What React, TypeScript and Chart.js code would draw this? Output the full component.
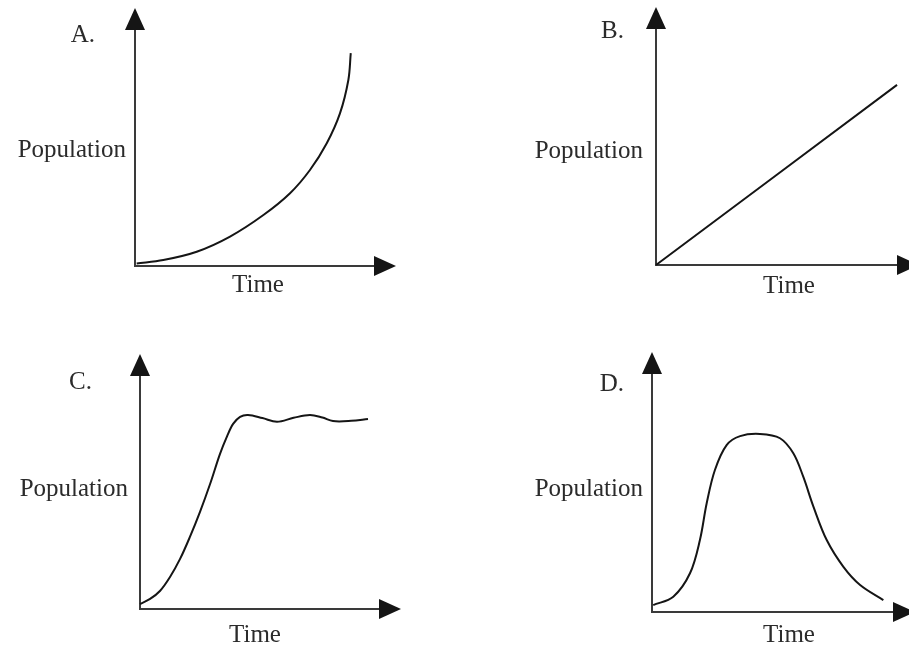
import React, { useEffect, useRef } from "react";
import { Chart, registerables } from "chart.js";

Chart.register(...registerables);

// ---------- data (time 0..100, population 0..100) ----------
const timeA = [0.7, 11.8, 25.7, 39.6, 53.5, 64.6, 72.9, 79.9, 85.4, 88.9, 89.9];
const popA = [1.1, 2.5, 6.0, 12.4, 21.5, 30.7, 40.5, 51.8, 64.4, 78.5, 89.8];

const timeB = [0, 99.6];
const popB = [0, 76];

const timeC = [0, 4.2, 8.3, 12.5, 16.7, 20.8, 25, 29.2, 33.3, 36.3, 38.8, 41.7, 45, 51, 57.1, 64, 70.8, 76, 80.4, 88, 95];
const popC = [2.1, 4.3, 7.7, 13.7, 21.4, 30.8, 41.5, 53.4, 66.2, 73.9, 79.1, 82.1, 82.9, 81.6, 80.0, 81.7, 82.9, 81.8, 80.3, 80.4, 81.2];

const timeD = [0.5, 8.8, 15.7, 19.8, 22.6, 26, 30.9, 36.4, 44.6, 52.9, 58.4, 62.5, 66.7, 72.2, 79.1, 86, 95.6];
const popD = [2.9, 6.4, 16.2, 30.1, 45.5, 59.4, 69.9, 73.6, 74.5, 72.7, 66.4, 56.6, 44.1, 30.1, 18.9, 11.3, 5.0];

const panelLetters = ["A.", "B.", "C.", "D."];
const yAxisLabel = "Population";
const xAxisLabel = "Time";

// ---------- layout (pixels, per panel canvas) ----------
const PANELS = [
  { time: timeA, pop: popA, left: 0, top: 0, w: 454, h: 324,
    pad: { left: 135, top: 29, right: 79, bottom: 58 },
    letter: { x: 95, y: 42 }, ylab: { x: 126, y: 157 }, xlab: { x: 258, y: 292 } },
  { time: timeB, pop: popB, left: 454, top: 0, w: 455, h: 324,
    pad: { left: 202, top: 28, right: 11, bottom: 59 },
    letter: { x: 170, y: 38 }, ylab: { x: 189, y: 158 }, xlab: { x: 335, y: 293 } },
  { time: timeC, pop: popC, left: 0, top: 324, w: 454, h: 325,
    pad: { left: 140, top: 51, right: 74, bottom: 40 },
    letter: { x: 92, y: 65 }, ylab: { x: 128, y: 172 }, xlab: { x: 255, y: 318 } },
  { time: timeD, pop: popD, left: 454, top: 324, w: 455, h: 325,
    pad: { left: 198, top: 49, right: 15, bottom: 37 },
    letter: { x: 170, y: 67 }, ylab: { x: 189, y: 172 }, xlab: { x: 335, y: 318 } },
];

const FONT = '25px "Liberation Serif", "Times New Roman", serif';
const TEXT_COLOR = "#2b2b2b";
const AXIS_COLOR = "#3a3a3a";

const decorPlugin = {
  id: "decor",
  afterDraw(chart: any, _args: any, opts: any) {
    const ctx = chart.ctx as CanvasRenderingContext2D;
    const xs = chart.scales.x;
    const ys = chart.scales.y;
    const x0 = xs.getPixelForValue(xs.min);
    const x1 = xs.getPixelForValue(xs.max);
    const y0 = ys.getPixelForValue(ys.min);
    const y1 = ys.getPixelForValue(ys.max);
    ctx.save();
    ctx.fillStyle = "#151515";
    // y arrow
    ctx.beginPath();
    ctx.moveTo(x0, y1 - 21);
    ctx.lineTo(x0 - 10, y1 + 1);
    ctx.lineTo(x0 + 10, y1 + 1);
    ctx.closePath();
    ctx.fill();
    // x arrow
    ctx.beginPath();
    ctx.moveTo(x1 + 21, y0);
    ctx.lineTo(x1 - 1, y0 - 10);
    ctx.lineTo(x1 - 1, y0 + 10);
    ctx.closePath();
    ctx.fill();
    // texts
    ctx.font = FONT;
    ctx.fillStyle = TEXT_COLOR;
    ctx.textBaseline = "alphabetic";
    ctx.textAlign = "right";
    ctx.fillText(opts.letter, opts.letterPos.x, opts.letterPos.y);
    ctx.fillText(yAxisLabel, opts.ylab.x, opts.ylab.y);
    ctx.textAlign = "center";
    ctx.fillText(xAxisLabel, opts.xlab.x, opts.xlab.y);
    ctx.restore();
  },
};

function Panel({ idx }: { idx: number }) {
  const ref = useRef<HTMLCanvasElement | null>(null);
  const p = PANELS[idx];
  useEffect(() => {
    if (!ref.current) return;
    const axisCommon = {
      type: "linear" as const,
      min: 0,
      max: 100,
      grid: { display: false, drawTicks: false },
      ticks: { display: false },
      border: { display: true, color: AXIS_COLOR, width: 2 },
    };
    const chart = new Chart(ref.current, {
      type: "line",
      data: {
        datasets: [
          {
            data: p.time.map((t, i) => ({ x: t, y: p.pop[i] })),
            borderColor: "#151515",
            borderWidth: 2,
            pointRadius: 0,
            fill: false,
            tension: 0.35,
            clip: false as any,
          },
        ],
      },
      options: {
        responsive: false,
        animation: false,
        events: [],
        layout: { padding: p.pad },
        plugins: {
          legend: { display: false },
          tooltip: { enabled: false },
          title: { display: false },
          decor: { letter: panelLetters[idx], letterPos: p.letter, ylab: p.ylab, xlab: p.xlab },
        } as any,
        scales: { x: axisCommon, y: axisCommon } as any,
      },
      plugins: [decorPlugin],
    });
    return () => chart.destroy();
  }, []);
  return (
    <canvas
      ref={ref}
      width={p.w}
      height={p.h}
      style={{ position: "absolute", left: p.left, top: p.top, width: p.w, height: p.h }}
    />
  );
}

export default function App() {
  return (
    <div style={{ position: "fixed", left: 0, top: 0, width: 909, height: 649, background: "#fff", overflow: "hidden" }}>
      {PANELS.map((_, i) => (
        <Panel key={i} idx={i} />
      ))}
    </div>
  );
}
